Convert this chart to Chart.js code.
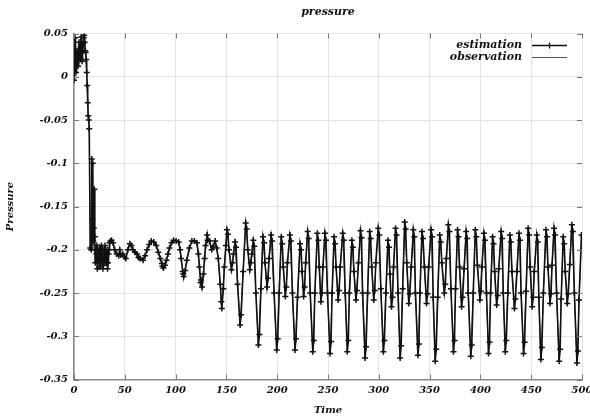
<!DOCTYPE html>
<html>
<head>
<meta charset="utf-8">
<script src="https://cdn.jsdelivr.net/npm/chart.js@4/dist/chart.umd.min.js"></script>
<style>
  body { margin: 0; background: #fff; }
  #wrap { width: 590px; height: 420px; }
</style>
</head>
<body>
<div id="wrap"><canvas id="pressureChart" width="590" height="420"></canvas></div>
<script>
// turning points of the signal (shared by observation and estimation)
var keyTime = [0, 1, 2, 3, 4, 5, 6, 7, 8, 9, 10, 11, 12, 13, 14, 15, 16, 17,
  19, 21, 23, 25, 27, 29, 31, 33, 35, 37, 40, 44, 48, 51, 55, 58, 62, 68, 72, 76,
  81, 85, 88, 91, 94, 98, 103, 105.5, 108, 111, 116, 121, 123.5, 126, 128.5, 131,
  135.5, 139, 142, 145.5, 148,
  150.5, 155, 158.5, 163.5, 169, 173, 176.5, 181.5, 186, 190, 194, 199.5, 204, 208,
  212.5, 217.5, 222.5, 226, 230, 235, 239.5, 243, 247, 252, 256, 260, 264.5, 269,
  273.5, 277.5, 282, 286.5, 291, 295, 299.5, 304.5, 309, 312.5, 316.5, 321, 325.5,
  329.5, 334, 338.5, 342.5, 347, 351.5, 355.5, 360, 364.5, 368.5, 373.5, 377.5,
  381.5, 386, 390.5, 395, 399.5, 403.5, 408, 412, 416, 420.5, 424.5, 429, 433.5,
  438, 442.5, 447, 451, 455.5, 459.5, 464.5, 468.5, 472.5, 477.5, 481.5, 485.5,
  490, 495, 499.5];
var keyPressure = [-0.004, 0.045, 0.005, 0.03, 0.012, 0.04, 0.02, 0.046, 0.018, 0.038,
  0.048, 0.03, 0.02, -0.01, -0.045, -0.06, -0.198, -0.2,
  -0.19, -0.215, -0.222, -0.2, -0.195, -0.218, -0.205, -0.222, -0.192, -0.189,
  -0.2, -0.207, -0.205, -0.21, -0.193, -0.2, -0.205, -0.212, -0.2, -0.19,
  -0.195, -0.21, -0.221, -0.212, -0.198, -0.189, -0.191, -0.21, -0.231, -0.212,
  -0.19, -0.192, -0.22, -0.243, -0.21, -0.183, -0.2, -0.19, -0.21, -0.268, -0.22,
  -0.177, -0.223, -0.191, -0.287, -0.169, -0.223, -0.189, -0.31, -0.185, -0.243,
  -0.183, -0.316, -0.185, -0.254, -0.183, -0.316, -0.193, -0.254, -0.179, -0.318,
  -0.181, -0.26, -0.181, -0.32, -0.185, -0.258, -0.181, -0.318, -0.189, -0.258,
  -0.178, -0.325, -0.179, -0.258, -0.175, -0.318, -0.189, -0.266, -0.175, -0.325,
  -0.168, -0.262, -0.177, -0.322, -0.179, -0.262, -0.177, -0.329, -0.183, -0.25,
  -0.171, -0.318, -0.177, -0.266, -0.179, -0.323, -0.177, -0.258, -0.181, -0.32,
  -0.185, -0.264, -0.179, -0.318, -0.183, -0.268, -0.181, -0.32, -0.175, -0.266,
  -0.183, -0.327, -0.177, -0.262, -0.175, -0.329, -0.185, -0.262, -0.171, -0.331,
  -0.183];

// extra estimation samples seen along the strokes (mid-stroke)
var extraTime = [0.5, 1.5, 2.5, 3.5, 4.5, 5.5, 6.5, 7.5, 8.5, 9.5, 10.5, 11.5, 12.5,
  13.5, 14.5, 17.5, 18, 18.5, 19.5, 20, 20.5,
  22, 24, 26, 28, 30, 32, 34, 36, 38.5, 42, 46, 49.5, 53, 56.5, 60, 65, 70, 74,
  78.5, 83, 86.5, 89.5, 92.5, 96, 100.5, 104.5, 107, 109.5, 113.5, 118.5, 122.5,
  125, 127.5, 129.5, 133.5, 137, 140.5, 144, 147, 149.5,
  152.5, 157, 161, 166.5, 171, 175, 179, 184, 188, 192, 197, 202, 206, 210, 215,
  220, 224.5, 228, 232.5, 237, 241.5, 245, 249.5, 254, 258, 262, 267, 271, 275.5,
  280, 284, 289, 293, 297, 302, 307, 311, 314.5, 319, 323.5, 327.5, 332, 336,
  340.5, 345, 349, 353.5, 358, 362, 366.5, 371, 375.5, 379.5, 384, 388, 393, 397,
  401.5, 406, 410, 414, 418, 422.5, 427, 431, 436, 440, 445, 449, 453, 457.5, 462,
  466.5, 470.5, 475, 479.5, 483.5, 488, 492.5, 497];
var extraPressure = [0.02, 0.03, 0.015, 0.025, 0.03, 0.028, 0.035, 0.03, 0.03, 0.045,
  0.04, 0.028, 0.005, -0.03, -0.05, -0.095, -0.165, -0.1, -0.175, -0.13, -0.185,
  -0.205, -0.21, -0.198, -0.21, -0.212, -0.215, -0.205, -0.19, -0.192, -0.205,
  -0.206, -0.208, -0.2, -0.195, -0.203, -0.21, -0.207, -0.194, -0.191, -0.203,
  -0.216, -0.218, -0.205, -0.192, -0.19, -0.2, -0.225, -0.224, -0.198, -0.19,
  -0.205, -0.235, -0.228, -0.195, -0.19, -0.196, -0.198, -0.24, -0.245, -0.195,
  -0.2, -0.205, -0.24, -0.225, -0.2, -0.205, -0.25, -0.245, -0.215, -0.21, -0.25,
  -0.25, -0.22, -0.215, -0.25, -0.255, -0.225, -0.215, -0.25, -0.25, -0.22, -0.22,
  -0.25, -0.25, -0.22, -0.22, -0.25, -0.25, -0.225, -0.215, -0.25, -0.25, -0.22,
  -0.215, -0.245, -0.25, -0.228, -0.22, -0.25, -0.245, -0.215, -0.22, -0.25, -0.25,
  -0.22, -0.22, -0.255, -0.255, -0.215, -0.21, -0.245, -0.245, -0.22, -0.222, -0.25,
  -0.25, -0.218, -0.22, -0.25, -0.25, -0.225, -0.222, -0.25, -0.25, -0.225, -0.225,
  -0.25, -0.248, -0.22, -0.225, -0.255, -0.25, -0.22, -0.218, -0.25, -0.257, -0.225,
  -0.217, -0.25, -0.258];

// estimation samples seen just after each peak / trough, and in the noisy patch near t=20-35
var nearTime = [21.5, 22.5, 23.5, 24.5, 25.5, 26.5, 27.5, 28.5, 29.5, 30.5, 31.5,
  32.5, 33.5, 34.5, 45, 63.5, 87, 107.5, 124.5, 131.5, 145,
  151.5, 156, 159.5, 164.5, 170, 174, 177.5, 182.5, 187, 191, 195, 200.5, 205,
  209, 213.5, 218.5, 223.5, 227, 231, 236, 240.5, 244, 248, 253, 257, 261, 265.5,
  270, 274.5, 278.5, 283, 287.5, 292, 296, 300.5, 305.5, 310, 313.5, 317.5, 322,
  326.5, 330.5, 335, 339.5, 343.5, 348, 352.5, 356.5, 361, 365.5, 369.5, 374.5,
  378.5, 382.5, 387, 391.5, 396, 400.5, 404.5, 409, 413, 417, 421.5, 425.5, 430,
  434.5, 439, 443.5, 448, 452, 456.5, 460.5, 465.5, 469.5, 473.5, 478.5, 482.5,
  486.5, 491, 496];
var nearPressure = [-0.2, -0.195, -0.21, -0.203, -0.22, -0.215, -0.2, -0.222, -0.2,
  -0.195, -0.214, -0.2, -0.215, -0.2, -0.2, -0.209, -0.219, -0.228, -0.238, -0.189, -0.26,
  -0.182, -0.215, -0.197, -0.275, -0.176, -0.215, -0.196, -0.298, -0.192, -0.233,
  -0.19, -0.303, -0.193, -0.243, -0.19, -0.303, -0.2, -0.243, -0.187, -0.305,
  -0.189, -0.25, -0.189, -0.306, -0.193, -0.247, -0.189, -0.305, -0.197, -0.247,
  -0.186, -0.312, -0.187, -0.247, -0.183, -0.305, -0.197, -0.255, -0.183, -0.311,
  -0.176, -0.251, -0.185, -0.309, -0.187, -0.251, -0.185, -0.315, -0.191, -0.24,
  -0.179, -0.305, -0.185, -0.255, -0.187, -0.31, -0.185, -0.248, -0.189, -0.307,
  -0.193, -0.253, -0.187, -0.305, -0.191, -0.257, -0.189, -0.307, -0.183, -0.255,
  -0.191, -0.313, -0.185, -0.251, -0.183, -0.315, -0.193, -0.251, -0.179, -0.317];

var seriesNames = ['estimation', 'observation'];

function toPoints(ts, vs) {
  return ts.map(function (t, i) { return { x: t, y: vs[i] }; });
}
var observation = toPoints(keyTime, keyPressure);
var estimation = observation
  .concat(toPoints(extraTime, extraPressure))
  .concat(toPoints(nearTime, nearPressure))
  .sort(function (a, b) { return a.x - b.x; });

var serif = '"DejaVu Serif", "Liberation Serif", serif';

// title, inward tick marks and the gnuplot-like legend inside the plot
var decor = {
  id: 'decor',
  afterDraw: function (chart) {
    var ctx = chart.ctx, a = chart.chartArea;
    var sx = chart.scales.x, sy = chart.scales.y;
    ctx.save();
    ctx.strokeStyle = '#777';
    ctx.lineWidth = 1;
    sx.ticks.forEach(function (t) {
      var p = Math.round(sx.getPixelForValue(t.value)) + 0.5;
      ctx.beginPath();
      ctx.moveTo(p, a.top); ctx.lineTo(p, a.top + 5);
      ctx.moveTo(p, a.bottom); ctx.lineTo(p, a.bottom - 5);
      ctx.stroke();
    });
    sy.ticks.forEach(function (t) {
      var p = Math.round(sy.getPixelForValue(t.value)) + 0.5;
      ctx.beginPath();
      ctx.moveTo(a.left, p); ctx.lineTo(a.left + 5, p);
      ctx.moveTo(a.right, p); ctx.lineTo(a.right - 5, p);
      ctx.stroke();
    });

    ctx.fillStyle = '#111';
    ctx.font = 'italic bold 11px ' + serif;
    ctx.textAlign = 'center';
    ctx.textBaseline = 'middle';
    ctx.fillText('pressure', (a.left + a.right) / 2, 12);

    ctx.textAlign = 'right';
    chart.data.datasets.forEach(function (ds, i) {
      var y = a.top + 12 + i * 12;
      ctx.fillStyle = '#111';
      ctx.fillText(ds.label, a.right - 60, y);
      ctx.strokeStyle = ds.borderColor;
      ctx.lineWidth = ds.borderWidth;
      ctx.beginPath();
      ctx.moveTo(a.right - 50, y); ctx.lineTo(a.right - 15, y);
      ctx.stroke();
      if (ds.pointRadius > 0) {
        var cx = a.right - 32.5;
        ctx.lineWidth = 1.3;
        ctx.beginPath();
        ctx.moveTo(cx, y - 3); ctx.lineTo(cx, y + 3);
        ctx.stroke();
      }
    });
    ctx.restore();
  }
};

new Chart(document.getElementById('pressureChart').getContext('2d'), {
  type: 'line',
  data: {
    datasets: [{
      label: seriesNames[0],
      data: estimation,
      borderColor: '#111',
      borderWidth: 1.6,
      pointStyle: 'cross',
      pointRadius: 3,
      pointBorderWidth: 1.5,
      pointBorderColor: '#111',
      tension: 0
    }, {
      label: seriesNames[1],
      data: observation,
      borderColor: '#555',
      borderWidth: 1,
      pointRadius: 0,
      tension: 0
    }]
  },
  options: {
    responsive: false,
    animation: false,
    layout: { padding: { top: 33.5, right: 8, left: 0, bottom: 0 } },
    plugins: { legend: { display: false }, title: { display: false }, tooltip: { enabled: false } },
    scales: {
      x: {
        type: 'linear',
        min: 0, max: 500,
        ticks: { stepSize: 50, padding: 5, color: '#111', font: { family: serif, size: 10, style: 'italic', weight: 'bold' } },
        grid: { color: '#e4e4e4', drawTicks: false },
        border: { color: '#888', width: 1.5 },
        title: { display: true, text: 'Time', color: '#111', padding: { top: 2, bottom: 4 }, font: { family: serif, size: 10, style: 'italic', weight: 'bold' } },
        afterFit: function (s) { s.height = 40.5; s.paddingLeft = 0; s.paddingRight = 0; }
      },
      y: {
        min: -0.35, max: 0.05,
        ticks: {
          stepSize: 0.05, padding: 6, color: '#111',
          font: { family: serif, size: 10, style: 'italic', weight: 'bold' },
          callback: function (v) { return String(parseFloat(v.toFixed(2))); }
        },
        grid: { color: '#e4e4e4', drawTicks: false },
        border: { color: '#888', width: 1.5 },
        title: { display: true, text: 'Pressure', color: '#111', padding: { top: 4, bottom: 4 }, font: { family: serif, size: 10, style: 'italic', weight: 'bold' } },
        afterFit: function (s) { s.width = 74; s.paddingTop = 0; s.paddingBottom = 0; }
      }
    }
  },
  plugins: [decor]
});
</script>
</body>
</html>
